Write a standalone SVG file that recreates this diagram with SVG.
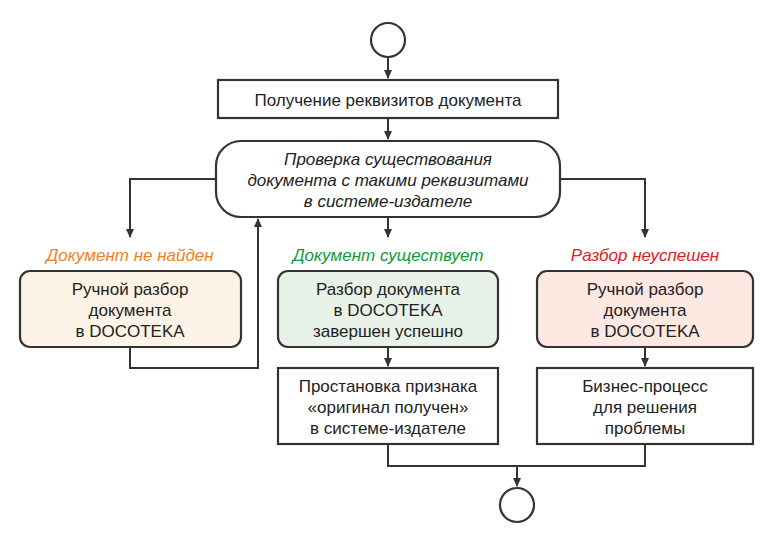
<svg xmlns="http://www.w3.org/2000/svg" width="776" height="546" viewBox="0 0 776 546">
<style>
text{font-family:"Liberation Sans",Arial,sans-serif;font-size:17px;fill:#222;text-anchor:middle}
.it{font-style:italic}
.n{stroke:#333;stroke-width:2.2;fill:#fff}
.c{stroke:#333;stroke-width:2;fill:none}
</style>
<defs><marker id="a" markerWidth="10" markerHeight="10" refX="8" refY="5" orient="auto" markerUnits="userSpaceOnUse"><path d="M0,1 L9,5 L0,9 Z" fill="#333"/></marker></defs>
<rect width="776" height="546" fill="#fff"/>
<g id="connectors">
<path class="c" d="M388,58 V78" marker-end="url(#a)"/>
<path class="c" d="M388,118 V139" marker-end="url(#a)"/>
<path class="c" d="M216,179 H130 V237" marker-end="url(#a)"/>
<path class="c" d="M560,179 H645 V237" marker-end="url(#a)"/>
<path class="c" d="M388,217 V237" marker-end="url(#a)"/>
<path class="c" d="M130,347 V368 H258 V219" marker-end="url(#a)"/>
<path class="c" d="M388,347 V366" marker-end="url(#a)"/>
<path class="c" d="M645,347 V366" marker-end="url(#a)"/>
<path class="c" d="M388,444 V466 H645 V444 M517,466 V486" marker-end="url(#a)"/>
</g>
<g id="start"><circle class="n" cx="388" cy="40" r="17"/></g>
<g id="n1"><rect class="n" x="218" y="80" width="340" height="38"/><text x="388" y="106">Получение реквизитов документа</text></g>
<g id="dec"><rect class="n" x="216" y="141" width="344" height="76" rx="25"/>
<text class="it" x="388" y="165">Проверка существования</text><text class="it" x="388" y="186">документа с такими реквизитами</text><text class="it" x="388" y="207">в системе-издателе</text></g>
<g id="l1"><text class="it" x="130" y="261" style="fill:#f07f1e">Документ не найден</text></g>
<g id="l2"><text class="it" x="388" y="261" style="fill:#0f9a3c">Документ существует</text></g>
<g id="l3"><text class="it" x="645" y="261" style="fill:#e0201e">Разбор неуспешен</text></g>
<g id="b1"><rect class="n" x="20" y="271" width="221" height="76" rx="10" style="fill:#fdf3e6"/>
<text x="130" y="295">Ручной разбор</text><text x="130" y="316">документа</text><text x="130" y="337">в DOCOTEKA</text></g>
<g id="b2"><rect class="n" x="278" y="271" width="220" height="76" rx="10" style="fill:#e8f2e8"/>
<text x="388" y="295">Разбор документа</text><text x="388" y="316">в DOCOTEKA</text><text x="388" y="337">завершен успешно</text></g>
<g id="b3"><rect class="n" x="537" y="271" width="216" height="76" rx="10" style="fill:#fde8e2"/>
<text x="645" y="295">Ручной разбор</text><text x="645" y="316">документа</text><text x="645" y="337">в DOCOTEKA</text></g>
<g id="b4"><rect class="n" x="278" y="368" width="220" height="76"/>
<text x="388" y="392">Простановка признака</text><text x="388" y="413">«оригинал получен»</text><text x="388" y="434">в системе-издателе</text></g>
<g id="b5"><rect class="n" x="537" y="368" width="216" height="76"/>
<text x="645" y="392">Бизнес-процесс</text><text x="645" y="413">для решения</text><text x="645" y="434">проблемы</text></g>
<g id="end"><circle class="n" cx="517" cy="505" r="17"/></g>
</svg>
